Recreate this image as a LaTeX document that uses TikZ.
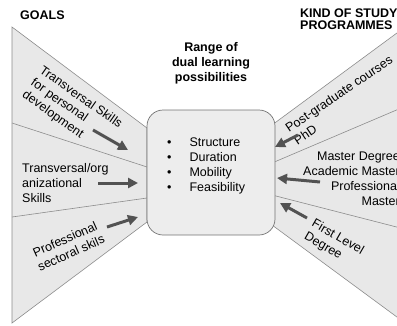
\documentclass[tikz,border=0pt]{standalone}
\usepackage{fontspec}
\setmainfont{Liberation Sans}
\usetikzlibrary{arrows.meta}

\begin{document}
\begin{tikzpicture}[x=1pt, y=-1pt,
fan/.style={draw=black!45, fill=black!9, line width=0.6pt},
range_box/.style={draw=black!55, fill=black!7, rounded corners=16pt, line width=0.7pt, minimum width=128pt, minimum height=125pt},
heading/.style={font=\fontsize{12.5}{12}\selectfont\bfseries, align=left, inner sep=0pt},
label_text/.style={font=\fontsize{12.5}{15}\selectfont, inner sep=0pt},
big_arrow/.style={-{Triangle[length=10pt, width=10pt]}, draw=black!68, line width=3pt}]

    \useasboundingbox (0,0) rectangle (397,325);
    \clip (0,0) rectangle (397,325);

    % Fans
    \draw[fan] (12,27) -- (147,128) -- (147,222) -- (12,323) -- cycle;
    \draw[fan] (12,123) -- (147,167);
    \draw[fan] (12,217) -- (147,198);
    \draw[fan] (420,16) -- (272,125) -- (272,225) -- (420,334) -- cycle;
    \draw[fan] (420,100) -- (272,163);
    \draw[fan] (420,233) -- (272,195);

    % Nodes
    \node (goals) [heading, anchor=west] at (20,15) {GOALS};
    \node (kind) [heading, anchor=west] at (300,19) {KIND OF STUDY\\PROGRAMMES};
    \node (range_title) [heading, align=center, font=\fontsize{12.5}{15}\selectfont\bfseries] at (211,63) {Range of\\dual learning\\possibilities};
    \node (range) [range_box] at (211,172.5) {};
    \node (aspects) [label_text, align=left, anchor=west] at (167,165.5) {\textbullet\hspace{18pt}Structure\\\textbullet\hspace{18pt}Duration\\\textbullet\hspace{18pt}Mobility\\\textbullet\hspace{18pt}Feasibility};

    \node (personal) [label_text, align=left, rotate=-35] at (72,110) {Transversal Skills\\for personal\\development};
    \node (organizational) [label_text, align=left, anchor=west] at (22,183) {Transversal/org\\anizational\\Skills};
    \node (sectoral) [label_text, align=center, rotate=24] at (68,246) {Professional\\sectoral skils};
    \node (postgrad) [label_text, align=left, rotate=34] at (343,100) {Post-graduate courses\\PhD};
    \node (master) [label_text, align=right, anchor=east] at (400,178.5) {Master Degree\\Academic Master\\Professional\\Master};
    \node (first_level) [label_text, align=left, rotate=-30] at (334,244) {First Level\\Degree};

    % Arrows
    \coordinate (personal_from) at (93,130);
    \coordinate (personal_to) at (128,150);
    \coordinate (organizational_from) at (98,183);
    \coordinate (organizational_to) at (138,183);
    \coordinate (sectoral_from) at (107,227);
    \coordinate (sectoral_to) at (138,217);
    \coordinate (postgrad_from) at (298,135);
    \coordinate (postgrad_to) at (275,147);
    \coordinate (master_from) at (320,182);
    \coordinate (master_to) at (277,178);
    \coordinate (first_level_from) at (307,218);
    \coordinate (first_level_to) at (280,203);
    \draw[big_arrow] (personal_from) -- (personal_to);
    \draw[big_arrow] (organizational_from) -- (organizational_to);
    \draw[big_arrow] (sectoral_from) -- (sectoral_to);
    \draw[big_arrow] (postgrad_from) -- (postgrad_to);
    \draw[big_arrow] (master_from) -- (master_to);
    \draw[big_arrow] (first_level_from) -- (first_level_to);

  \end{tikzpicture}
\end{document}
